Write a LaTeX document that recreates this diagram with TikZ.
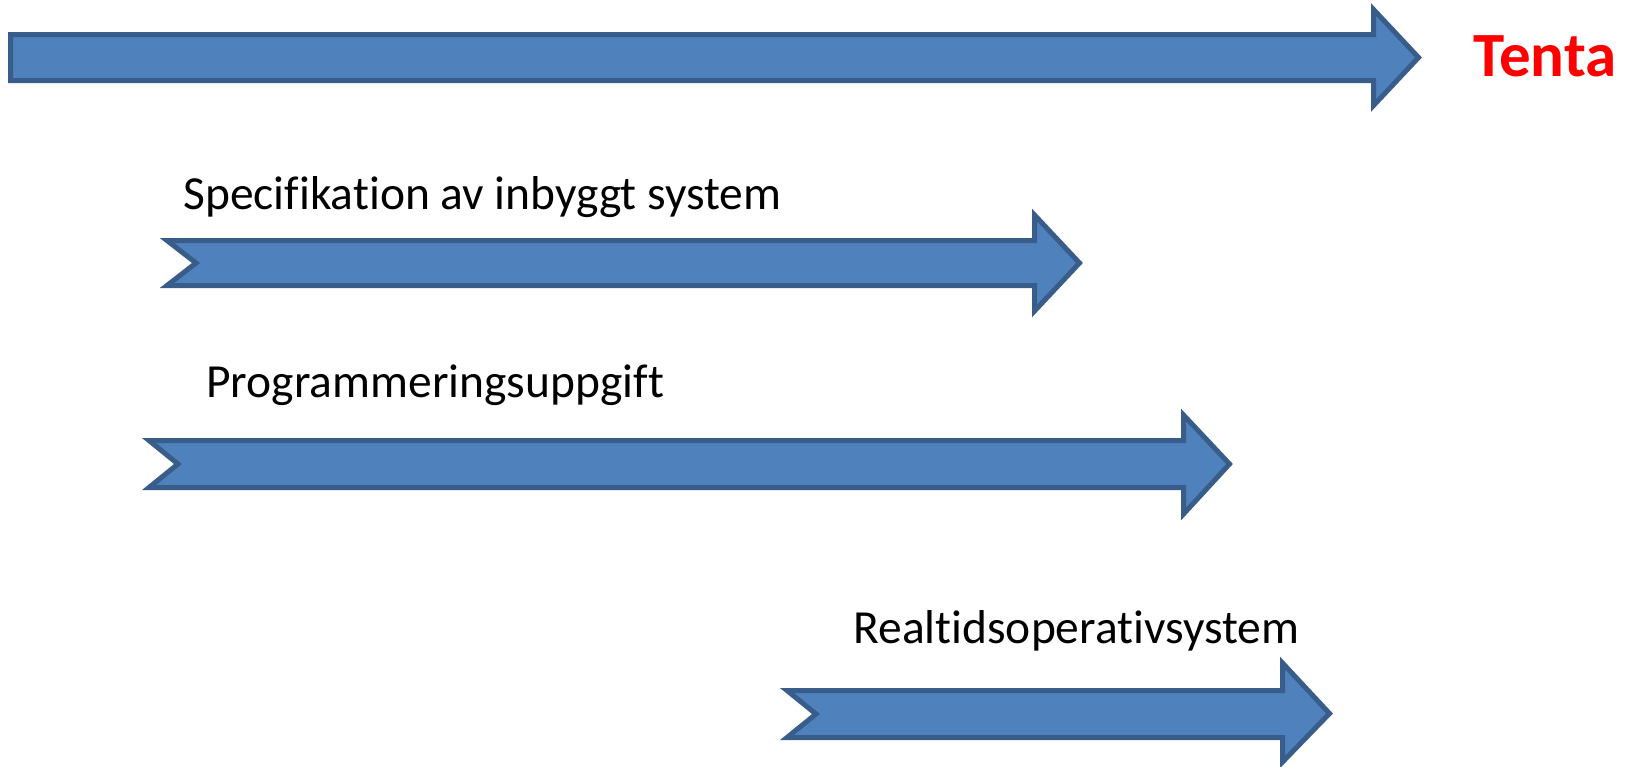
\documentclass[tikz,border=0pt]{standalone}
\usepackage{fontspec}
\setmainfont[Ligatures=NoCommon]{Carlito}
\definecolor{arrfill}{HTML}{4F81BD}
\definecolor{arrline}{HTML}{385D8A}
\definecolor{tentared}{HTML}{FF0000}
\newcommand{\nolig}{\kern0pt }
\tikzset{
  bigarrow/.style={fill=arrfill, draw=arrline, line width=2.5pt, line join=miter},
  lbl/.style={anchor=base west, inner sep=0pt, font=\fontsize{23.75}{28}\selectfont, text=black},
  tentalbl/.style={anchor=base west, inner sep=0pt, font=\fontsize{31.5}{36}\selectfont\bfseries, text=tentared}
}
\begin{document}
\begin{tikzpicture}[x=0.5pt, y=-0.5pt]
\useasboundingbox (0,0) rectangle (1631,766);
% arrow 1 (flat tail)
\draw[bigarrow] (10.5,34.5) -- (1373.5,34.5) -- (1373.5,9.5) -- (1418.5,57.5) -- (1373.5,105.5) -- (1373.5,80.5) -- (10.5,80.5) -- cycle;
% arrow 2
\draw[bigarrow] (167,240.5) -- (1034.5,240.5) -- (1034.5,215) -- (1079.5,263) -- (1034.5,311) -- (1034.5,285.5) -- (167,285.5) -- (196,263) -- cycle;
% arrow 3
\draw[bigarrow] (149,440.5) -- (1183.5,440.5) -- (1183.5,415) -- (1229.5,464) -- (1183.5,514) -- (1183.5,487.5) -- (149,487.5) -- (178,464) -- cycle;
% arrow 4
\draw[bigarrow] (787,690.5) -- (1282.5,690.5) -- (1282.5,663) -- (1329.5,713.5) -- (1282.5,762) -- (1282.5,737.5) -- (787,737.5) -- (816,714) -- cycle;
% labels
\node[tentalbl] (tenta) at (1473,76) {Tenta};
\node[lbl] (spec) at (183,209) {Specif\nolig ikat\nolig ion av inbyggt system};
\node[lbl] (prog) at (206,397) {Programmeringsuppgif\nolig t};
\node[lbl] (rtos) at (853,643) {Realt\nolig idsoperat\nolig ivsystem};
\end{tikzpicture}
\end{document}
